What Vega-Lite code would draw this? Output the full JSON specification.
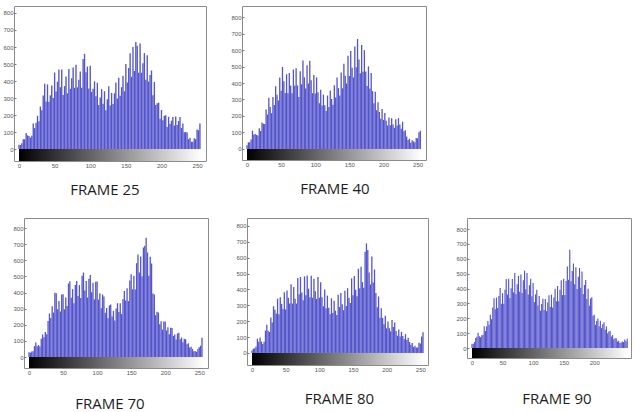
{
"$schema":"https://vega.github.io/schema/vega-lite/v6.json",
"padding":{"left":2,"top":5,"right":0,"bottom":0},
"background":"white",
"config":{
 "view":{"stroke":"#8c8c8c","strokeWidth":1},
 "axis":{"domain":false,"grid":false,"labelFont":"Liberation Sans","labelFontSize":6,"labelColor":"#555555","tickColor":"#777777","tickSize":-2,"labelPadding":3,"labelOverlap":false},
 "title":{"orient":"bottom","anchor":"middle","frame":"group","font":"Open Sans","fontSize":15,"fontWeight":"normal","color":"#1e1e1e"}
},
"datasets":{
"f25":[{"b":0,"c":25},{"b":2,"c":24},{"b":4,"c":34},{"b":6,"c":58},{"b":8,"c":58},{"b":10,"c":95},{"b":12,"c":81},{"b":14,"c":77},{"b":16,"c":68},{"b":18,"c":79},{"b":20,"c":150},{"b":22,"c":123},{"b":24,"c":155},{"b":26,"c":196},{"b":28,"c":163},{"b":30,"c":250},{"b":32,"c":229},{"b":34,"c":315},{"b":36,"c":384},{"b":38,"c":279},{"b":40,"c":380},{"b":42,"c":278},{"b":44,"c":316},{"b":46,"c":374},{"b":48,"c":301},{"b":50,"c":450},{"b":52,"c":339},{"b":54,"c":396},{"b":56,"c":468},{"b":58,"c":364},{"b":60,"c":468},{"b":62,"c":318},{"b":64,"c":370},{"b":66,"c":427},{"b":68,"c":328},{"b":70,"c":470},{"b":72,"c":355},{"b":74,"c":417},{"b":76,"c":480},{"b":78,"c":360},{"b":80,"c":495},{"b":82,"c":363},{"b":84,"c":408},{"b":86,"c":456},{"b":88,"c":360},{"b":90,"c":530},{"b":92,"c":560},{"b":94,"c":451},{"b":96,"c":485},{"b":98,"c":356},{"b":100,"c":490},{"b":102,"c":336},{"b":104,"c":355},{"b":106,"c":398},{"b":108,"c":310},{"b":110,"c":390},{"b":112,"c":259},{"b":114,"c":303},{"b":116,"c":352},{"b":118,"c":266},{"b":120,"c":340},{"b":122,"c":229},{"b":124,"c":293},{"b":126,"c":369},{"b":128,"c":256},{"b":130,"c":330},{"b":132,"c":265},{"b":134,"c":328},{"b":136,"c":392},{"b":138,"c":297},{"b":140,"c":420},{"b":142,"c":314},{"b":144,"c":364},{"b":146,"c":431},{"b":148,"c":340},{"b":150,"c":500},{"b":152,"c":392},{"b":154,"c":476},{"b":156,"c":563},{"b":158,"c":425},{"b":160,"c":600},{"b":162,"c":459},{"b":164,"c":630},{"b":166,"c":607},{"b":168,"c":449},{"b":170,"c":620},{"b":172,"c":449},{"b":174,"c":505},{"b":176,"c":564},{"b":178,"c":408},{"b":180,"c":552},{"b":182,"c":397},{"b":184,"c":435},{"b":186,"c":462},{"b":188,"c":317},{"b":190,"c":395},{"b":192,"c":259},{"b":194,"c":269},{"b":196,"c":273},{"b":198,"c":178},{"b":200,"c":230},{"b":202,"c":170},{"b":204,"c":196},{"b":206,"c":199},{"b":208,"c":130},{"b":210,"c":190},{"b":212,"c":148},{"b":214,"c":167},{"b":216,"c":188},{"b":218,"c":138},{"b":220,"c":191},{"b":222,"c":142},{"b":224,"c":165},{"b":226,"c":189},{"b":228,"c":124},{"b":230,"c":150},{"b":232,"c":99},{"b":234,"c":100},{"b":236,"c":97},{"b":238,"c":58},{"b":240,"c":66},{"b":242,"c":43},{"b":244,"c":43},{"b":246,"c":63},{"b":248,"c":58},{"b":250,"c":115},{"b":252,"c":111},{"b":254,"c":150}],
"f40":[{"b":0,"c":23},{"b":2,"c":40},{"b":4,"c":41},{"b":6,"c":57},{"b":8,"c":111},{"b":10,"c":88},{"b":12,"c":90},{"b":14,"c":85},{"b":16,"c":82},{"b":18,"c":126},{"b":20,"c":109},{"b":22,"c":160},{"b":24,"c":153},{"b":26,"c":151},{"b":28,"c":240},{"b":30,"c":209},{"b":32,"c":310},{"b":34,"c":254},{"b":36,"c":217},{"b":38,"c":315},{"b":40,"c":266},{"b":42,"c":380},{"b":44,"c":328},{"b":46,"c":294},{"b":48,"c":433},{"b":50,"c":353},{"b":52,"c":497},{"b":54,"c":411},{"b":56,"c":339},{"b":58,"c":453},{"b":60,"c":338},{"b":62,"c":460},{"b":64,"c":385},{"b":66,"c":338},{"b":68,"c":482},{"b":70,"c":383},{"b":72,"c":490},{"b":74,"c":385},{"b":76,"c":315},{"b":78,"c":471},{"b":80,"c":392},{"b":82,"c":537},{"b":84,"c":435},{"b":86,"c":366},{"b":88,"c":507},{"b":90,"c":397},{"b":92,"c":535},{"b":94,"c":417},{"b":96,"c":338},{"b":98,"c":449},{"b":100,"c":337},{"b":102,"c":434},{"b":104,"c":344},{"b":106,"c":277},{"b":108,"c":359},{"b":110,"c":263},{"b":112,"c":330},{"b":114,"c":265},{"b":116,"c":230},{"b":118,"c":324},{"b":120,"c":255},{"b":122,"c":354},{"b":124,"c":303},{"b":126,"c":268},{"b":128,"c":387},{"b":130,"c":312},{"b":132,"c":433},{"b":134,"c":369},{"b":136,"c":324},{"b":138,"c":463},{"b":140,"c":368},{"b":142,"c":516},{"b":144,"c":444},{"b":146,"c":397},{"b":148,"c":566},{"b":150,"c":442},{"b":152,"c":594},{"b":154,"c":492},{"b":156,"c":434},{"b":158,"c":621},{"b":160,"c":495},{"b":162,"c":667},{"b":164,"c":542},{"b":166,"c":459},{"b":168,"c":631},{"b":170,"c":468},{"b":172,"c":599},{"b":174,"c":470},{"b":176,"c":382},{"b":178,"c":501},{"b":180,"c":367},{"b":182,"c":460},{"b":184,"c":351},{"b":186,"c":277},{"b":188,"c":347},{"b":190,"c":235},{"b":192,"c":284},{"b":194,"c":224},{"b":196,"c":183},{"b":198,"c":243},{"b":200,"c":176},{"b":202,"c":218},{"b":204,"c":171},{"b":206,"c":142},{"b":208,"c":191},{"b":210,"c":143},{"b":212,"c":186},{"b":214,"c":148},{"b":216,"c":128},{"b":218,"c":180},{"b":220,"c":142},{"b":222,"c":187},{"b":224,"c":148},{"b":226,"c":123},{"b":228,"c":165},{"b":230,"c":107},{"b":232,"c":114},{"b":234,"c":76},{"b":236,"c":55},{"b":238,"c":62},{"b":240,"c":38},{"b":242,"c":53},{"b":244,"c":46},{"b":246,"c":41},{"b":248,"c":66},{"b":250,"c":64},{"b":252,"c":102},{"b":254,"c":110}],
"f70":[{"b":0,"c":30},{"b":2,"c":27},{"b":4,"c":34},{"b":6,"c":36},{"b":8,"c":68},{"b":10,"c":90},{"b":12,"c":67},{"b":14,"c":74},{"b":16,"c":66},{"b":18,"c":113},{"b":20,"c":140},{"b":22,"c":122},{"b":24,"c":155},{"b":26,"c":142},{"b":28,"c":223},{"b":30,"c":270},{"b":32,"c":242},{"b":34,"c":315},{"b":36,"c":276},{"b":38,"c":398},{"b":40,"c":395},{"b":42,"c":296},{"b":44,"c":348},{"b":46,"c":283},{"b":48,"c":388},{"b":50,"c":390},{"b":52,"c":296},{"b":54,"c":369},{"b":56,"c":317},{"b":58,"c":456},{"b":60,"c":470},{"b":62,"c":367},{"b":64,"c":421},{"b":66,"c":334},{"b":68,"c":446},{"b":70,"c":472},{"b":72,"c":378},{"b":74,"c":446},{"b":76,"c":366},{"b":78,"c":504},{"b":80,"c":524},{"b":82,"c":412},{"b":84,"c":472},{"b":86,"c":369},{"b":88,"c":485},{"b":90,"c":508},{"b":92,"c":402},{"b":94,"c":461},{"b":96,"c":357},{"b":98,"c":466},{"b":100,"c":468},{"b":102,"c":356},{"b":104,"c":396},{"b":106,"c":302},{"b":108,"c":388},{"b":110,"c":376},{"b":112,"c":275},{"b":114,"c":304},{"b":116,"c":240},{"b":118,"c":320},{"b":120,"c":326},{"b":122,"c":251},{"b":124,"c":286},{"b":126,"c":226},{"b":128,"c":301},{"b":130,"c":334},{"b":132,"c":279},{"b":134,"c":333},{"b":136,"c":266},{"b":138,"c":359},{"b":140,"c":410},{"b":142,"c":351},{"b":144,"c":427},{"b":146,"c":347},{"b":148,"c":475},{"b":150,"c":514},{"b":152,"c":420},{"b":154,"c":504},{"b":156,"c":418},{"b":158,"c":582},{"b":160,"c":636},{"b":162,"c":524},{"b":164,"c":623},{"b":166,"c":501},{"b":168,"c":679},{"b":170,"c":690},{"b":172,"c":740},{"b":174,"c":648},{"b":176,"c":504},{"b":178,"c":621},{"b":180,"c":580},{"b":182,"c":394},{"b":184,"c":387},{"b":186,"c":259},{"b":188,"c":281},{"b":190,"c":276},{"b":192,"c":204},{"b":194,"c":222},{"b":196,"c":170},{"b":198,"c":221},{"b":200,"c":220},{"b":202,"c":165},{"b":204,"c":184},{"b":206,"c":141},{"b":208,"c":182},{"b":210,"c":180},{"b":212,"c":131},{"b":214,"c":140},{"b":216,"c":108},{"b":218,"c":146},{"b":220,"c":150},{"b":222,"c":111},{"b":224,"c":121},{"b":226,"c":91},{"b":228,"c":114},{"b":230,"c":110},{"b":232,"c":80},{"b":234,"c":85},{"b":236,"c":59},{"b":238,"c":64},{"b":240,"c":50},{"b":242,"c":36},{"b":244,"c":38},{"b":246,"c":32},{"b":248,"c":50},{"b":250,"c":60},{"b":252,"c":70},{"b":254,"c":120}],
"f80":[{"b":0,"c":15},{"b":2,"c":27},{"b":4,"c":29},{"b":6,"c":40},{"b":8,"c":90},{"b":10,"c":70},{"b":12,"c":98},{"b":14,"c":72},{"b":16,"c":56},{"b":18,"c":70},{"b":20,"c":141},{"b":22,"c":178},{"b":24,"c":139},{"b":26,"c":132},{"b":28,"c":224},{"b":30,"c":192},{"b":32,"c":294},{"b":34,"c":272},{"b":36,"c":248},{"b":38,"c":342},{"b":40,"c":244},{"b":42,"c":351},{"b":44,"c":309},{"b":46,"c":276},{"b":48,"c":382},{"b":50,"c":274},{"b":52,"c":394},{"b":54,"c":347},{"b":56,"c":311},{"b":58,"c":432},{"b":60,"c":311},{"b":62,"c":416},{"b":64,"c":342},{"b":66,"c":311},{"b":68,"c":472},{"b":70,"c":370},{"b":72,"c":478},{"b":74,"c":381},{"b":76,"c":332},{"b":78,"c":482},{"b":80,"c":363},{"b":82,"c":488},{"b":84,"c":405},{"b":86,"c":351},{"b":88,"c":486},{"b":90,"c":348},{"b":92,"c":468},{"b":94,"c":389},{"b":96,"c":340},{"b":98,"c":478},{"b":100,"c":348},{"b":102,"c":445},{"b":104,"c":350},{"b":106,"c":294},{"b":108,"c":400},{"b":110,"c":281},{"b":112,"c":361},{"b":114,"c":285},{"b":116,"c":244},{"b":118,"c":344},{"b":120,"c":252},{"b":122,"c":329},{"b":124,"c":266},{"b":126,"c":239},{"b":128,"c":366},{"b":130,"c":289},{"b":132,"c":378},{"b":134,"c":306},{"b":136,"c":269},{"b":138,"c":392},{"b":140,"c":296},{"b":142,"c":408},{"b":144,"c":346},{"b":146,"c":315},{"b":148,"c":470},{"b":150,"c":363},{"b":152,"c":484},{"b":154,"c":398},{"b":156,"c":357},{"b":158,"c":530},{"b":160,"c":407},{"b":162,"c":543},{"b":164,"c":446},{"b":166,"c":410},{"b":168,"c":638},{"b":170,"c":690},{"b":172,"c":649},{"b":174,"c":507},{"b":176,"c":431},{"b":178,"c":608},{"b":180,"c":444},{"b":182,"c":525},{"b":184,"c":378},{"b":186,"c":288},{"b":188,"c":356},{"b":190,"c":222},{"b":192,"c":282},{"b":194,"c":221},{"b":196,"c":181},{"b":198,"c":234},{"b":200,"c":155},{"b":202,"c":198},{"b":204,"c":155},{"b":206,"c":137},{"b":208,"c":208},{"b":210,"c":163},{"b":212,"c":192},{"b":214,"c":138},{"b":216,"c":109},{"b":218,"c":148},{"b":220,"c":104},{"b":222,"c":133},{"b":224,"c":106},{"b":226,"c":88},{"b":228,"c":118},{"b":230,"c":81},{"b":232,"c":96},{"b":234,"c":69},{"b":236,"c":52},{"b":238,"c":62},{"b":240,"c":37},{"b":242,"c":45},{"b":244,"c":34},{"b":246,"c":34},{"b":248,"c":64},{"b":250,"c":59},{"b":252,"c":103},{"b":254,"c":130}],
"f90":[{"b":0,"c":29},{"b":2,"c":27},{"b":4,"c":40},{"b":6,"c":67},{"b":8,"c":76},{"b":10,"c":102},{"b":12,"c":79},{"b":14,"c":73},{"b":16,"c":86},{"b":18,"c":90},{"b":20,"c":146},{"b":22,"c":114},{"b":24,"c":146},{"b":26,"c":182},{"b":28,"c":157},{"b":30,"c":223},{"b":32,"c":194},{"b":34,"c":273},{"b":36,"c":334},{"b":38,"c":260},{"b":40,"c":340},{"b":42,"c":269},{"b":44,"c":350},{"b":46,"c":404},{"b":48,"c":298},{"b":50,"c":369},{"b":52,"c":297},{"b":54,"c":391},{"b":56,"c":464},{"b":58,"c":359},{"b":60,"c":466},{"b":62,"c":337},{"b":64,"c":401},{"b":66,"c":464},{"b":68,"c":374},{"b":70,"c":504},{"b":72,"c":363},{"b":74,"c":429},{"b":76,"c":486},{"b":78,"c":378},{"b":80,"c":495},{"b":82,"c":370},{"b":84,"c":456},{"b":86,"c":520},{"b":88,"c":395},{"b":90,"c":504},{"b":92,"c":360},{"b":94,"c":422},{"b":96,"c":466},{"b":98,"c":348},{"b":100,"c":437},{"b":102,"c":310},{"b":104,"c":361},{"b":106,"c":392},{"b":108,"c":286},{"b":110,"c":349},{"b":112,"c":251},{"b":114,"c":296},{"b":116,"c":332},{"b":118,"c":255},{"b":120,"c":330},{"b":122,"c":248},{"b":124,"c":306},{"b":126,"c":354},{"b":128,"c":275},{"b":130,"c":359},{"b":132,"c":272},{"b":134,"c":340},{"b":136,"c":398},{"b":138,"c":315},{"b":140,"c":417},{"b":142,"c":315},{"b":144,"c":392},{"b":146,"c":456},{"b":148,"c":356},{"b":150,"c":466},{"b":152,"c":357},{"b":154,"c":451},{"b":156,"c":548},{"b":158,"c":459},{"b":160,"c":660},{"b":162,"c":449},{"b":164,"c":517},{"b":166,"c":568},{"b":168,"c":429},{"b":170,"c":543},{"b":172,"c":397},{"b":174,"c":479},{"b":176,"c":538},{"b":178,"c":406},{"b":180,"c":514},{"b":182,"c":364},{"b":184,"c":424},{"b":186,"c":458},{"b":188,"c":330},{"b":190,"c":398},{"b":192,"c":284},{"b":194,"c":333},{"b":196,"c":342},{"b":198,"c":217},{"b":200,"c":223},{"b":202,"c":157},{"b":204,"c":181},{"b":206,"c":198},{"b":208,"c":147},{"b":210,"c":184},{"b":212,"c":134},{"b":214,"c":160},{"b":216,"c":174},{"b":218,"c":123},{"b":220,"c":146},{"b":222,"c":99},{"b":224,"c":111},{"b":226,"c":114},{"b":228,"c":78},{"b":230,"c":87},{"b":232,"c":59},{"b":234,"c":65},{"b":236,"c":66},{"b":238,"c":44},{"b":240,"c":49},{"b":242,"c":33},{"b":244,"c":37},{"b":246,"c":44},{"b":248,"c":40},{"b":250,"c":58},{"b":252,"c":46},{"b":254,"c":62}],
"gray":[{"lo":0,"hi":256}]
},
"bounds":"flush",
"spacing":212,
"vconcat":[
 {"bounds":"flush","spacing":36,"hconcat":[
  {"width":192,"height":155,"title":{"text":"FRAME 25","dx":-5,"offset":15},
   "layer":[
    {"data":{"name":"f25"},"mark":{"type":"bar","width":1.35,"color":"#5454cc","clip":true},
     "encoding":{"x":{"field":"b","type":"quantitative","title":null,"scale":{"domain":[0,255.5],"nice":false,"zero":false},"axis":{"values":[0,50,100,150,200,250],"labelOverlap":false}},
       "y":{"field":"c","type":"quantitative","title":null,"scale":{"domain":[-70,841],"nice":false,"zero":false},"axis":{"values":[0,100,200,300,400,500,600,700,800],"labelOverlap":false}},
       "y2":{"datum":0}}},
    {"data":{"name":"gray"},"mark":{"type":"rect","clip":true,"fill":{"gradient":"linear","x1":0,"y1":0,"x2":1,"y2":0,"stops":[{"offset":0,"color":"#000000"},{"offset":1,"color":"#ffffff"}]}},
     "encoding":{"x":{"field":"lo","type":"quantitative","axis":{"values":[0,50,100,150,200,250],"labelOverlap":false}},"x2":{"field":"hi"},"y":{"datum":-70,"type":"quantitative","axis":{"values":[0,100,200,300,400,500,600,700,800],"labelOverlap":false}},"y2":{"datum":0}}}
   ]},
  {"width":184,"height":154,"title":{"text":"FRAME 40","dx":1,"offset":15},
   "layer":[
    {"data":{"name":"f40"},"mark":{"type":"bar","width":1.3,"color":"#5454cc","clip":true},
     "encoding":{"x":{"field":"b","type":"quantitative","title":null,"scale":{"domain":[0,255],"nice":false,"zero":false},"axis":{"values":[0,50,100,150,200,250],"labelOverlap":false}},
       "y":{"field":"c","type":"quantitative","title":null,"scale":{"domain":[-67,867],"nice":false,"zero":false},"axis":{"values":[0,100,200,300,400,500,600,700,800],"labelOverlap":false}},
       "y2":{"datum":0}}},
    {"data":{"name":"gray"},"mark":{"type":"rect","clip":true,"fill":{"gradient":"linear","x1":0,"y1":0,"x2":1,"y2":0,"stops":[{"offset":0,"color":"#000000"},{"offset":1,"color":"#ffffff"}]}},
     "encoding":{"x":{"field":"lo","type":"quantitative","axis":{"values":[0,50,100,150,200,250],"labelOverlap":false}},"x2":{"field":"hi"},"y":{"datum":-67,"type":"quantitative","axis":{"values":[0,100,200,300,400,500,600,700,800],"labelOverlap":false}},"y2":{"datum":0}}}
   ]}
 ]},
 {"bounds":"flush","spacing":9,"hconcat":[
  {"width":1,"height":1,"view":{"stroke":null},"data":{"values":[{"z":0}]},"mark":{"type":"point","opacity":0},"encoding":{}},
  {"bounds":"flush","spacing":39,"hconcat":[
   {"width":184,"height":150,"title":{"text":"FRAME 70","dx":-6,"offset":22},
    "layer":[
     {"data":{"name":"f70"},"mark":{"type":"bar","width":1.3,"color":"#5454cc","clip":true},
      "encoding":{"x":{"field":"b","type":"quantitative","title":null,"scale":{"domain":[0,255.5],"nice":false,"zero":false},"axis":{"values":[0,50,100,150,200,250],"labelOverlap":false}},
        "y":{"field":"c","type":"quantitative","title":null,"scale":{"domain":[-68,862],"nice":false,"zero":false},"axis":{"values":[0,100,200,300,400,500,600,700,800],"labelOverlap":false}},
        "y2":{"datum":0}}},
     {"data":{"name":"gray"},"mark":{"type":"rect","clip":true,"fill":{"gradient":"linear","x1":0,"y1":0,"x2":1,"y2":0,"stops":[{"offset":0,"color":"#000000"},{"offset":1,"color":"#ffffff"}]}},
      "encoding":{"x":{"field":"lo","type":"quantitative","axis":{"values":[0,50,100,150,200,250],"labelOverlap":false}},"x2":{"field":"hi"},"y":{"datum":-68,"type":"quantitative","axis":{"values":[0,100,200,300,400,500,600,700,800],"labelOverlap":false}},"y2":{"datum":0}}}
    ]},
   {"width":181,"height":147,"title":{"text":"FRAME 80","dx":2,"offset":20},
    "layer":[
     {"data":{"name":"f80"},"mark":{"type":"bar","width":1.3,"color":"#5454cc","clip":true},
      "encoding":{"x":{"field":"b","type":"quantitative","title":null,"scale":{"domain":[0,254],"nice":false,"zero":false},"axis":{"values":[0,50,100,150,200,250],"labelOverlap":false}},
        "y":{"field":"c","type":"quantitative","title":null,"scale":{"domain":[-76,850],"nice":false,"zero":false},"axis":{"values":[0,100,200,300,400,500,600,700,800],"labelOverlap":false}},
        "y2":{"datum":0}}},
     {"data":{"name":"gray"},"mark":{"type":"rect","clip":true,"fill":{"gradient":"linear","x1":0,"y1":0,"x2":1,"y2":0,"stops":[{"offset":0,"color":"#000000"},{"offset":1,"color":"#ffffff"}]}},
      "encoding":{"x":{"field":"lo","type":"quantitative","axis":{"values":[0,50,100,150,200,250],"labelOverlap":false}},"x2":{"field":"hi"},"y":{"datum":-76,"type":"quantitative","axis":{"values":[0,100,200,300,400,500,600,700,800],"labelOverlap":false}},"y2":{"datum":0}}}
    ]},
   {"width":164,"height":140,"title":{"text":"FRAME 90","dx":8,"offset":27},
    "layer":[
     {"data":{"name":"f90"},"mark":{"type":"bar","width":1.15,"color":"#5454cc","clip":true},
      "encoding":{"x":{"field":"b","type":"quantitative","title":null,"scale":{"domain":[0,252],"nice":false,"zero":false},"axis":{"values":[0,50,100,150,200],"labelOverlap":false}},
        "y":{"field":"c","type":"quantitative","title":null,"scale":{"domain":[-67,874],"nice":false,"zero":false},"axis":{"values":[0,100,200,300,400,500,600,700,800],"labelOverlap":false}},
        "y2":{"datum":0}}},
     {"data":{"name":"gray"},"mark":{"type":"rect","clip":true,"fill":{"gradient":"linear","x1":0,"y1":0,"x2":1,"y2":0,"stops":[{"offset":0,"color":"#000000"},{"offset":1,"color":"#ffffff"}]}},
      "encoding":{"x":{"field":"lo","type":"quantitative","axis":{"values":[0,50,100,150,200],"labelOverlap":false}},"x2":{"field":"hi"},"y":{"datum":-67,"type":"quantitative","axis":{"values":[0,100,200,300,400,500,600,700,800],"labelOverlap":false}},"y2":{"datum":0}}}
    ]}
  ]}
 ]}
]
}
